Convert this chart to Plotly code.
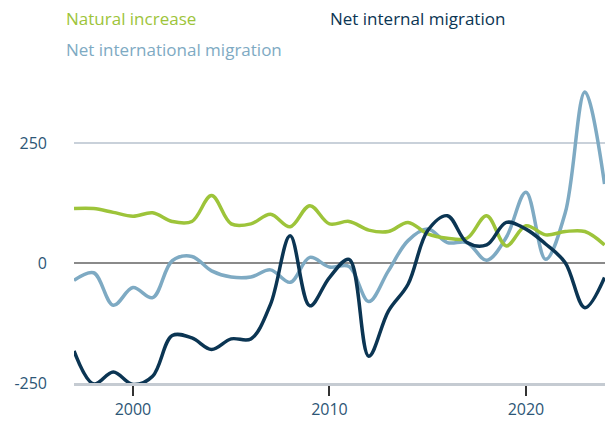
import plotly.graph_objects as go

# -------------------------------------------------------------------
# DATA (thousands of people)
# -------------------------------------------------------------------
years = list(range(1997, 2025))

natural_increase = [114, 114, 106, 98, 105, 87, 87, 141, 82, 82, 102, 76, 120, 82,
                    87, 69, 66, 85, 61, 52, 52, 99, 36, 78, 59, 66, 66, 38]

net_internal = [-183, -252, -227, -253, -236, -151, -156, -180, -158, -158, -86, 57, -89, -30,
                8, -194, -100, -44, 68, 99, 43, 38, 85, 71, 40, 1, -93, -30]

net_international = [-36, -20, -88, -51, -72, 5, 14, -16, -29, -29, -14, -40, 12, -8,
                     -7, -80, -16, 47, 71, 43, 43, 6, 54, 148, 8, 105, 357, 165]

tick_years = [2000, 2010, 2020]
tick_values = [-250, 0, 250]
tick_text = ["-250", "0", "250"]

GREEN = "#9dc43a"
NAVY = "#0b3553"
LIGHT = "#7eaac3"
LABEL = "#2d5676"
FONT = "Open Sans"

# -------------------------------------------------------------------
# FIGURE
# -------------------------------------------------------------------
fig = go.Figure()

for name, vals, col in [("Net international migration", net_international, LIGHT),
                        ("Natural increase", natural_increase, GREEN),
                        ("Net internal migration", net_internal, NAVY)]:
    fig.add_trace(go.Scatter(
        x=years, y=vals, mode="lines", name=name,
        line=dict(color=col, width=3.5, shape="spline", smoothing=1.0),
        hoverinfo="x+y+name"
    ))

# legend as coloured text
legend_items = [("Natural increase", GREEN, 0.0, 1.0),
                ("Net internal migration", NAVY, 0.49, 1.0),
                ("Net international migration", LIGHT, 0.0, 0.895)]
for text, col, x, y in legend_items:
    fig.add_annotation(
        text=text, xref="paper", yref="paper", x=x, y=y, yshift=63,
        xanchor="left", yanchor="middle", showarrow=False, xshift=-10,
        font=dict(family=FONT, size=17, color=col)
    )

# page body has an 8px margin, so the figure is 8px smaller on each leading side
fig.update_layout(
    width=605, height=426,
    margin=dict(l=66, r=0, t=73, b=51),
    paper_bgcolor="white", plot_bgcolor="white",
    showlegend=False,
    font=dict(family=FONT, size=16, color=LABEL),
    xaxis=dict(
        range=[1997, 2024.43],
        tickvals=tick_years,
        ticks="outside", ticklen=10, tickwidth=1.5, tickcolor="#333333",
        showgrid=False, zeroline=False,
        showline=True, linecolor="#c5cbd2", linewidth=3,
        tickfont=dict(family=FONT, size=16, color=LABEL),
    ),
    yaxis=dict(
        range=[-250, 380],
        tickvals=tick_values, ticktext=tick_text,
        showgrid=True, gridcolor="#c9d1da", gridwidth=1.5,
        zeroline=True, zerolinecolor="#8a8a8a", zerolinewidth=2,
        showline=False, ticks="", ticklabelstandoff=26,
        tickfont=dict(family=FONT, size=16, color=LABEL),
    ),
)

fig.write_html("out.html")
